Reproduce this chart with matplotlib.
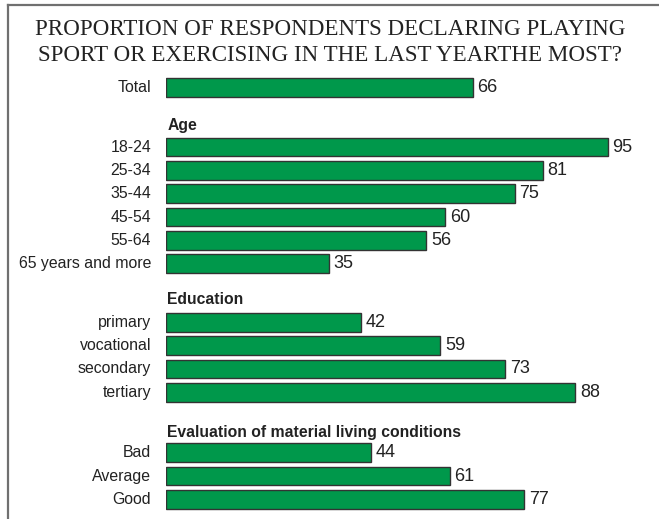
#!/usr/bin/env python3

import matplotlib
matplotlib.use("Agg")
import matplotlib.pyplot as plt
from matplotlib.lines import Line2D

title = ("PROPORTION OF RESPONDENTS DECLARING PLAYING\n"
         "SPORT OR EXERCISING IN THE LAST YEARTHE MOST?")

total_label = "Total"
total_value = 66

age_labels = ["18-24", "25-34", "35-44", "45-54", "55-64", "65 years and more"]
age_values = [95, 81, 75, 60, 56, 35]

edu_labels = ["primary", "vocational", "secondary", "tertiary"]
edu_values = [42, 59, 73, 88]

living_labels = ["Bad", "Average", "Good"]
living_values = [44, 61, 77]

groups = [
    (None, [total_label], [total_value]),
    ("Age", age_labels, age_values),
    ("Education", edu_labels, edu_values),
    ("Evaluation of material living conditions", living_labels, living_values),
]


def draw():
    plt.rcParams['font.family'] = ['Liberation Sans', 'DejaVu Sans']

    W, H = 659, 519
    fig = plt.figure(figsize=(W / 100, H / 100), dpi=100)
    ax = fig.add_axes([166 / W, 0, 465 / W, 1])
    ax.set_xlim(0, 100)
    row_px = 23.3
    top = -87.7 / row_px
    ax.set_ylim(top + H / row_px, top)
    ax.axis('off')

    bar_color = "#00984b"
    # spacing (in rows) before each group header and between header and bars
    head_gaps = [0, 1.6, 1.55, 1.7]
    item_gaps = [0, 0.95, 0.97, 0.9]
    y = 0.0
    for (header, labels, values), hg, ig in zip(groups, head_gaps, item_gaps):
        if header is not None:
            y += hg
            ax.text(0.3, y + 0.2, header, ha='left', va='baseline',
                    fontsize=11.3, fontweight='bold', color="#222222")
            y += ig
        ys = []
        for i, (lbl, val) in enumerate(zip(labels, values)):
            ys.append(y)
            ax.text(-3.2, y, lbl, ha='right', va='center',
                    fontsize=11.4, color="#222222")
            ax.text(val + 1.0, y, str(val), ha='left', va='center',
                    fontsize=13, color="#222222")
            if i < len(labels) - 1:
                y += 1.0
        ax.barh(ys, values, height=0.8, color=bar_color,
                edgecolor="#333333", linewidth=1.0)

    fig.text(330 / W, 1 - 42.5 / H, title, ha='center', va='center',
             family=['Liberation Serif', 'DejaVu Serif'], fontsize=16.6,
             linespacing=1.3, color="#222222")

    # frame
    fig.add_artist(Line2D([8 / W, 1], [1 - 4.5 / H, 1 - 4.5 / H],
                          color="#707070", linewidth=1.6))
    fig.add_artist(Line2D([8 / W, 8 / W], [0, 1 - 4.5 / H],
                          color="#707070", linewidth=1.6))

    fig.savefig('out.png', dpi=100)


if __name__ == "__main__":
    draw()
